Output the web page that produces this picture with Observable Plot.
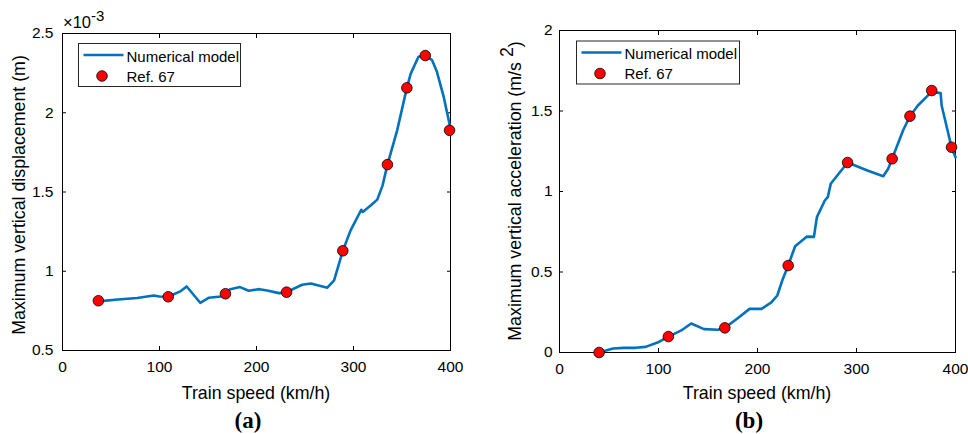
<!DOCTYPE html>
<html><head><meta charset="utf-8">
<script src="https://cdn.jsdelivr.net/npm/d3@7"></script>
<script src="https://cdn.jsdelivr.net/npm/@observablehq/plot@0.6"></script>
<style>
body{margin:0;background:#fff;}
#wrap{position:relative;width:968px;height:434px;overflow:hidden;font-family:"Liberation Sans",Arial,sans-serif;}
#wrap svg{position:absolute;top:0;overflow:visible;}
</style></head><body><div id="wrap"></div>
<script>
// ---------- data ----------
const xTicks = [0, 100, 200, 300, 400];

// panel (a): maximum vertical displacement (x10^-3 m)
const speedA = [37, 57, 77, 94, 100, 109, 122, 128, 142, 151, 163, 173, 183, 192, 203, 211, 223, 231, 247, 256, 273, 280, 289, 297, 308, 309.5, 318, 324.5, 330, 335, 345, 355, 359, 367, 374, 381, 386, 393, 400];
const dispA  = [0.81, 0.822, 0.831, 0.847, 0.841, 0.839, 0.875, 0.904, 0.801, 0.833, 0.841, 0.887, 0.9, 0.877, 0.887, 0.879, 0.862, 0.868, 0.915, 0.923, 0.896, 0.942, 1.129, 1.258, 1.388, 1.374, 1.416, 1.452, 1.542, 1.673, 1.889, 2.157, 2.247, 2.353, 2.361, 2.332, 2.258, 2.1, 1.9];
const refSpeedA = [37, 109, 168, 231, 289, 335, 355, 374, 399];
const refDispA  = [0.814, 0.839, 0.858, 0.868, 1.129, 1.673, 2.157, 2.361, 1.889];
const yTicksA = [0.5, 1, 1.5, 2, 2.5];

// panel (b): maximum vertical acceleration (m/s^2)
const speedB = [40, 54, 65, 77, 87, 99, 110, 123, 133, 146, 160, 167, 180, 192, 204, 214, 220, 225, 231, 238, 250, 257, 260, 268, 271, 274, 291, 311, 327, 332, 336, 347, 354, 362, 372, 376, 379, 385, 386, 396, 400];
const accB   = [0, 0.025, 0.029, 0.029, 0.035, 0.062, 0.099, 0.137, 0.18, 0.145, 0.141, 0.153, 0.213, 0.271, 0.271, 0.311, 0.354, 0.447, 0.54, 0.66, 0.72, 0.718, 0.841, 0.944, 0.965, 1.048, 1.18, 1.13, 1.095, 1.141, 1.203, 1.379, 1.468, 1.534, 1.596, 1.627, 1.617, 1.611, 1.534, 1.275, 1.213];
const refSpeedB = [40, 110, 167, 231, 291, 336, 354, 376, 396];
const refAccB   = [0, 0.099, 0.153, 0.54, 1.18, 1.203, 1.468, 1.627, 1.275];
const yTicksB = [0, 0.5, 1, 1.5, 2];

const seriesNames = ["Numerical model", "Ref. 67"];
const xLabel = "Train speed (km/h)";

// ---------- drawing ----------
const BLUE = "#0072BD";
const FONT = "'Liberation Sans', Arial, sans-serif";
const fmt = d => String(d);

function panel(o) {
  const lineData = o.xs.map((x, i) => ({x, y: o.ys[i]}));
  const refData = o.rx.map((x, i) => ({x, y: o.ry[i]}));
  const svg = Plot.plot({
    width: 484, height: 434,
    marginLeft: o.mL, marginRight: o.mR, marginTop: o.mT, marginBottom: o.mB,
    style: {fontFamily: FONT, fontSize: "15.5px", color: "#000", background: "transparent", overflow: "visible"},
    x: {domain: [0, 400]},
    y: {domain: o.yDomain},
    marks: [
      Plot.axisX(xTicks, {anchor: "bottom", tickSize: -4, tickPadding: 14, tickFormat: fmt, label: null, fontSize: 15.5}),
      Plot.axisX(xTicks, {anchor: "top", tickSize: -4, tickFormat: () => "", label: null}),
      Plot.axisY(o.yTicks, {anchor: "left", tickSize: -4, tickPadding: o.yPad, tickFormat: fmt, label: null, fontSize: 15.5}),
      Plot.axisY(o.yTicks, {anchor: "right", tickSize: -4, tickFormat: () => "", label: null}),
      Plot.frame({stroke: "#000", strokeWidth: 1}),
      Plot.line(lineData, {x: "x", y: "y", stroke: BLUE, strokeWidth: 2.6, curve: "linear"}),
      Plot.dot(refData, {x: "x", y: "y", r: 5.3, fill: "#ff0000", stroke: "#000", strokeWidth: 0.8})
    ]
  });
  svg.style.left = o.left + "px";
  const s = d3.select(svg);
  // legend
  const L = o.legend;
  const g = s.append("g").attr("font-family", FONT).attr("font-size", 15).attr("text-anchor", "start");
  g.append("rect").attr("x", L.x).attr("y", L.y).attr("width", L.w).attr("height", L.h)
    .attr("fill", "#fff").attr("stroke", "#262626").attr("stroke-width", 1);
  g.append("line").attr("x1", L.x + 5).attr("x2", L.x + 45).attr("y1", L.y + 11.5).attr("y2", L.y + 11.5)
    .attr("stroke", BLUE).attr("stroke-width", 2.6);
  g.append("text").attr("x", L.x + 48).attr("y", L.y + 18).text(seriesNames[0]);
  g.append("circle").attr("cx", L.x + 23.5).attr("cy", L.y + 32.5).attr("r", 5.3)
    .attr("fill", "#ff0000").attr("stroke", "#000").attr("stroke-width", 0.8);
  g.append("text").attr("x", L.x + 48).attr("y", L.y + 38).text(seriesNames[1]);
  // x label
  s.append("text").attr("x", o.mL + (484 - o.mL - o.mR) / 2).attr("y", 399)
    .attr("text-anchor", "middle").attr("font-family", FONT).attr("font-size", 17.8).text(xLabel);
  // y label
  const yl = s.append("text").attr("transform", `translate(${o.yLabX},${o.yLabY}) rotate(-90)`)
    .attr("text-anchor", "middle").attr("dy", "0.35em").attr("font-family", FONT).attr("font-size", 17.8);
  o.yLabel(yl);
  // caption
  s.append("text").attr("x", o.capX).attr("y", 428).attr("text-anchor", "middle")
    .attr("font-family", "'Liberation Serif', 'Times New Roman', serif").attr("font-weight", "bold")
    .attr("font-size", 23).text(o.caption);
  return svg;
}

const wrap = document.getElementById("wrap");

const svgA = panel({
  left: 0, mL: 62, mR: 34, mT: 33, mB: 84,
  xs: speedA, ys: dispA, rx: refSpeedA, ry: refDispA,
  yDomain: [0.5, 2.5], yTicks: yTicksA, yPad: 13,
  legend: {x: 78.5, y: 43.5, w: 162, h: 43},
  yLabX: 18.5, yLabY: 195,
  yLabel: t => t.text("Maximum vertical displacement (m)"),
  capX: 248, caption: "(a)"
});
// exponent label
d3.select(svgA).append("text").attr("x", 63).attr("y", 28).attr("text-anchor", "start")
  .attr("font-family", FONT).attr("font-size", 16.5)
  .call(t => { t.append("tspan").text("×10"); t.append("tspan").attr("dy", -7).attr("font-size", 15).text("-3"); });
wrap.appendChild(svgA);

const svgB = panel({
  left: 484, mL: 75, mR: 13, mT: 30, mB: 82,
  xs: speedB, ys: accB, rx: refSpeedB, ry: refAccB,
  yDomain: [0, 2], yTicks: yTicksB, yPad: 11,
  legend: {x: 92.5, y: 41, w: 163, h: 43},
  yLabX: 31, yLabY: 191,
  yLabel: t => { t.append("tspan").text("Maximum vertical acceleration (m/s "); t.append("tspan").attr("dy", "-0.45em").text("2"); t.append("tspan").attr("dy", "0.45em").text(")"); },
  capX: 265, caption: "(b)"
});
wrap.appendChild(svgB);
</script>
</body></html>
